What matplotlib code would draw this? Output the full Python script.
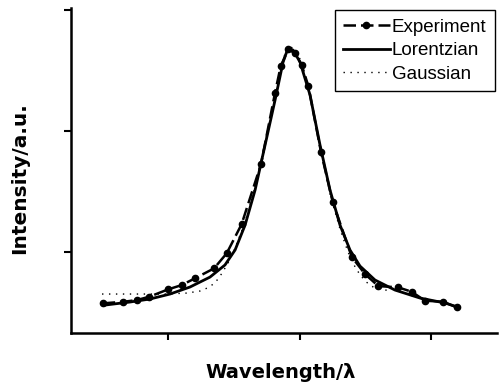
import matplotlib
matplotlib.use("Agg")
import matplotlib.pyplot as plt

# Experiment data (arbitrary units: x ticks at 1,2,3; y ticks at 1,2,3)
exp_x = [0.503, 0.660, 0.762, 0.858, 1.002, 1.104, 1.205, 1.350, 1.446, 1.560,
         1.707, 1.814, 1.857, 1.915, 1.966, 2.017, 2.067, 2.163, 2.252, 2.397,
         2.498, 2.599, 2.751, 2.853, 2.954, 3.094, 3.195]
exp_y = [0.576, 0.589, 0.603, 0.631, 0.692, 0.727, 0.783, 0.865, 0.989, 1.231,
         1.727, 2.317, 2.537, 2.675, 2.642, 2.545, 2.372, 1.829, 1.416, 0.961,
         0.818, 0.719, 0.708, 0.672, 0.598, 0.589, 0.543]

# Lorentzian fit curve
lor_x = [0.521, 0.711, 0.863, 1.015, 1.167, 1.319, 1.433, 1.510, 1.586, 1.662,
         1.738, 1.814, 1.875, 1.913, 1.951, 2.004, 2.080, 2.156, 2.232, 2.308,
         2.384, 2.460, 2.574, 2.726, 2.916, 3.106, 3.205]
lor_y = [0.562, 0.587, 0.612, 0.653, 0.711, 0.793, 0.893, 1.017, 1.223, 1.512,
         1.884, 2.256, 2.570, 2.686, 2.669, 2.570, 2.298, 1.884, 1.512, 1.223,
         1.017, 0.884, 0.769, 0.686, 0.620, 0.579, 0.545]

# Gaussian fit curve
gau_x = [0.498, 0.582, 0.658, 0.787, 0.977, 1.144, 1.243, 1.297, 1.357, 1.411,
         1.456, 1.510, 1.586, 1.662, 1.738, 1.814, 1.875, 1.913, 1.951, 2.004,
         2.080, 2.156, 2.232, 2.308, 2.369, 2.430, 2.498, 2.574, 2.688]
gau_y = [0.653, 0.653, 0.653, 0.653, 0.653, 0.661, 0.678, 0.702, 0.744, 0.826,
         0.909, 1.033, 1.248, 1.537, 1.901, 2.281, 2.595, 2.702, 2.686, 2.595,
         2.298, 1.884, 1.480, 1.190, 1.000, 0.860, 0.760, 0.700, 0.680]

x_ticks = [1, 2, 3]
y_ticks = [1, 2, 3]

fig = plt.figure(figsize=(5.01, 3.90), dpi=100)
ax = fig.add_axes([71 / 501, 1 - 333 / 390, 426 / 501, 325 / 390])

ax.plot(gau_x, gau_y, color="black", lw=1.0, linestyle=(0, (1, 4)), label="Gaussian", zorder=2)
ax.plot(lor_x, lor_y, color="black", lw=2.0, linestyle="-", label="Lorentzian", zorder=3)
ax.plot(exp_x, exp_y, color="black", lw=1.8, linestyle=(0, (5, 2)), marker="o",
        markersize=4.5, label="Experiment", zorder=4)

ax.set_xlim(0.262, 3.502)
ax.set_ylim(0.331, 3.017)
ax.set_xticks(x_ticks)
ax.set_yticks(y_ticks)
ax.tick_params(direction="out", length=5, width=1.5, labelbottom=False, labelleft=False)
for s in ["top", "right"]:
    ax.spines[s].set_visible(False)
for s in ["left", "bottom"]:
    ax.spines[s].set_linewidth(1.8)

handles, labels = ax.get_legend_handles_labels()
order = [2, 1, 0]
leg = ax.legend([handles[i] for i in order], [labels[i] for i in order],
                loc="upper right", bbox_to_anchor=(0.995, 0.994), borderaxespad=0,
                prop={"family": "Liberation Sans", "size": 13.5},
                frameon=True, fancybox=False, edgecolor="black", framealpha=1,
                handlelength=2.5, handletextpad=0.1, labelspacing=0.35,
                borderpad=0.45, numpoints=1)
leg.get_frame().set_linewidth(1.0)

fig.text(281 / 501, 1 - 373 / 390, "Wavelength/λ", ha="center", va="center",
         family="DejaVu Sans", weight="bold", fontsize=14)
fig.text(20 / 501, 1 - 178 / 390, "Intensity/a.u.", ha="center", va="center",
         rotation=90, family="DejaVu Sans", weight="bold", fontsize=14.5)

fig.savefig("out.png", dpi=100)
